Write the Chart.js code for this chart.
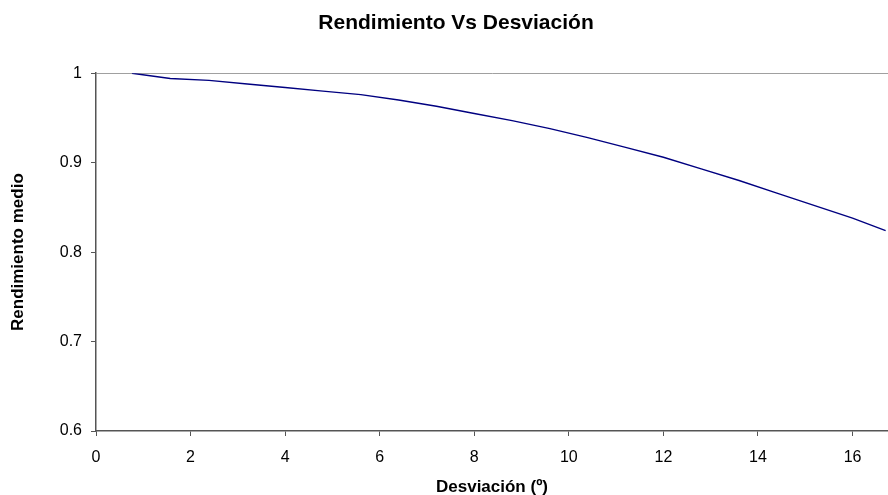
<!DOCTYPE html>
<html>
<head>
<meta charset="utf-8">
<script src="https://cdn.jsdelivr.net/npm/chart.js@4/dist/chart.umd.min.js"></script>
<style>
  html, body { margin: 0; padding: 0; background: #fff; }
  #wrap { width: 888px; height: 495px; }
</style>
</head>
<body>
<div id="wrap"><canvas id="graf"></canvas></div>
<script>
// desviacion (grados) y rendimiento medio
var desviacion = [0.76, 1.57, 2.39, 3.2, 4.0, 4.8, 5.6, 6.4, 7.2, 8.0, 8.8, 9.6, 10.4, 11.2, 12.0, 12.8, 13.6, 14.4, 15.2, 16.0, 16.7];
var rendimiento = [1.0, 0.994, 0.992, 0.988, 0.984, 0.980, 0.976, 0.970, 0.963, 0.955, 0.947, 0.938, 0.928, 0.917, 0.906, 0.893, 0.880, 0.866, 0.852, 0.838, 0.824];
var ticks_x = [0, 2, 4, 6, 8, 10, 12, 14, 16];
var titulo = "Rendimiento Vs Desviación";
var titulo_x = "Desviación (º)";
var titulo_y = "Rendimiento medio";

var puntos = [];
for (let i = 0; i < desviacion.length; i++) {
  puntos.push({x: desviacion[i], y: rendimiento[i]});
}

Chart.defaults.font.family = "'Liberation Sans', Arial, sans-serif";
Chart.defaults.color = "#000";

var ctx = document.getElementById('graf').getContext('2d');
var grafico = new Chart(ctx, {
  type: 'line',
  data: {
    datasets: [{
      data: puntos,
      borderColor: "#000080",
      borderWidth: 1.4,
      pointRadius: 0,
      tension: 0,
      fill: false
    }]
  },
  options: {
    responsive: true,
    maintainAspectRatio: false,
    animation: false,
    layout: { padding: { left: 24, right: 0, top: 0, bottom: 0 } },
    plugins: {
      legend: { display: false },
      tooltip: { enabled: false },
      title: {
        display: true,
        text: titulo,
        font: { size: 21, weight: 'bold' },
        padding: { top: 11, bottom: 37 }
      }
    },
    scales: {
      x: {
        type: 'linear',
        min: 0,
        max: 16.75,
        ticks: { font: { size: 16 }, padding: 12, maxRotation: 0, autoSkip: false },
        afterBuildTicks: function (scale) {
          scale.ticks = ticks_x.map(v => ({ value: v }));
        },
        grid: { drawOnChartArea: false, tickLength: 5, tickColor: "#555" },
        border: { display: true, color: "#555", width: 1.5 },
        title: { display: true, text: titulo_x, font: { size: 17, weight: 'bold' }, padding: { top: 0, bottom: -3 } },
        afterFit: function (scale) { scale.height = 64; }
      },
      y: {
        min: 0.6,
        max: 1,
        ticks: {
          stepSize: 0.1,
          font: { size: 16 },
          padding: 9,
          callback: function (v) { return String(Number(v.toFixed(1))); }
        },
        grid: {
          drawOnChartArea: true,
          tickLength: 5,
          tickColor: "#555",
          color: function (c) { return (c.tick && Math.abs(c.tick.value - 1) < 1e-9) ? "#a0a0a0" : "rgba(0,0,0,0)"; }
        },
        border: { display: true, color: "#555", width: 1.5 },
        title: { display: true, text: titulo_y, font: { size: 17, weight: 'bold' }, padding: { top: -16, bottom: 0 } },
        afterFit: function (scale) { scale.width = 72; }
      }
    }
  }
});
</script>
</body>
</html>
